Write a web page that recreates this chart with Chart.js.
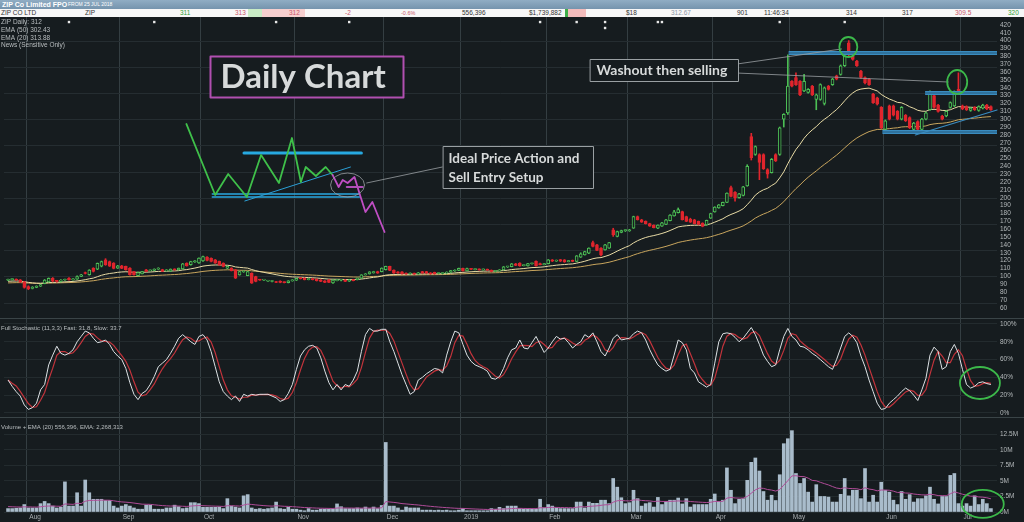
<!DOCTYPE html>
<html>
<head>
<meta charset="utf-8">
<title>ZIP Daily Chart</title>
<script src="https://cdn.jsdelivr.net/npm/chart.js@4.4.1/dist/chart.umd.min.js"></script>
<style>
  html, body { margin: 0; padding: 0; width: 1024px; height: 522px; overflow: hidden; background: #161c1f; font-family: 'Liberation Sans', Arial, sans-serif; }
  canvas { position: absolute; left: 0; top: 0; }
  #titleBar { position: absolute; z-index: 2; left: 0; top: 0; width: 1024px; height: 9px; background: linear-gradient(#90adc4, #7594ad); color: #fff; white-space: nowrap; }
  #titleBar b { position: absolute; left: 2px; top: 0; font-size: 7px; line-height: 9px; }
  #titleBar span { position: absolute; left: 68px; top: 0; font-size: 5px; line-height: 9px; }
  #quoteRow { position: absolute; z-index: 2; left: 0; top: 9px; width: 1024px; height: 8px; background: #f7f7f7; font-size: 6.5px; line-height: 8px; color: #333; white-space: nowrap; }
  #quoteRow span { position: absolute; top: 0; }
  #quoteRow i { position: absolute; top: 0; height: 8px; }
</style>
</head>
<body>
<canvas id="zipChart" width="1024" height="522"></canvas>
<div id="titleBar"><b>ZIP Co Limited FPO</b><span>FROM 25 JUL 2018</span></div>
<div id="quoteRow">
  <i style="left:248px;width:14px;background:#c9ecc6"></i>
  <i style="left:262px;width:43px;background:#f6cfcf"></i>
  <i style="left:565px;width:3px;background:#3fae4a"></i>
  <i style="left:568px;width:18px;background:#f3bcbc"></i>
  <span style="left:1px">ZIP CO LTD</span>
  <span style="left:85px">ZIP</span>
  <span style="left:180px;color:#2f9e36">311</span>
  <span style="left:235px;color:#c9566a">313</span>
  <span style="left:289px;color:#c9566a">312</span>
  <span style="left:345px;color:#c9566a">-2</span>
  <span style="left:401px;color:#c9566a;font-size:5.5px">-0.6%</span>
  <span style="left:462px">556,396</span>
  <span style="left:529px">$1,739,882</span>
  <span style="left:626px">$18</span>
  <span style="left:671px;color:#8a96a6">312.67</span>
  <span style="left:737px">901</span>
  <span style="left:764px">11:46:34</span>
  <span style="left:846px">314</span>
  <span style="left:902px">317</span>
  <span style="left:955px;color:#c9566a">309.5</span>
  <span style="left:1008px;color:#2f9e36">320</span>
</div>
<script>
// months on the time axis, as index of their first trading day
const monthLabels = ['Aug', 'Sep', 'Oct', 'Nov', 'Dec', '2019', 'Feb', 'Mar', 'Apr', 'May', 'Jun', 'Jul'];
const monthStart = [5, 28, 48, 71, 93, 112, 133, 153, 174, 193, 216, 235];

const priceTicks = [60, 70, 80, 90, 100, 110, 120, 130, 140, 150, 160, 170, 180, 190, 200, 210, 220, 230, 240, 250,
    260, 270, 280, 290, 300, 310, 320, 330, 340, 350, 360, 370, 380, 390, 400, 410, 420];
const stochTicks = [0, 20, 40, 60, 80, 100];
const volumeTicks = [0, 2.5, 5, 7.5, 10, 12.5];

// daily candles, 25 Jul 2018 onwards
const opens = [
    95, 95.8, 96, 95.6, 93, 87, 84.5, 86, 87.5, 91,
    93, 97.5, 94, 93.6, 95.4, 97.5, 95.6, 96.4, 100, 104.5,
    102, 110.4, 109, 113, 121, 118.8, 116.8, 110.4, 113.4, 112.6,
    110.4, 106, 101, 103.2, 108.3, 107, 107.5, 109.2, 108.6, 107,
    106.5, 109.2, 108.2, 109.5, 116.8, 114.7, 118.2, 117, 119.5, 124.5,
    123, 121, 119, 116.8, 110.4, 110.4, 108.3, 101.9, 105.8, 101,
    104.1, 99.8, 95.6, 95.2, 94, 93.5, 93, 94, 92.6, 92,
    94.2, 95, 97.4, 97.8, 95.8, 96.8, 96.4, 95.6, 94.3, 95.6,
    91.5, 94.5, 95, 95.6, 93.8, 95.6, 95.8, 97.7, 101.9, 103.2,
    104.5, 106.2, 106, 108.5, 112.6, 108, 105.8, 105.8, 104.1, 103,
    103.8, 102.8, 106, 106, 104, 105, 103.6, 103.4, 104.2, 105.2,
    106.8, 107.6, 110.2, 107, 109.6, 108.6, 109.2, 108.2, 109, 107.8,
    106.2, 107, 108.2, 112, 112.4, 116, 117, 113.6, 113.2, 116,
    119, 116.2, 115, 116.2, 121, 119.4, 121.2, 121, 118.8, 120.4,
    119, 124.4, 127.4, 129.5, 143, 140, 136, 133.7, 136, 159.2,
    150.8, 156, 158.2, 158, 161.3, 176, 172, 170, 167, 165,
    161.3, 164, 166, 171, 177, 181, 182.5, 176, 173, 172,
    170, 167.7, 165.5, 174, 182, 187, 190, 194, 213, 207,
    200, 203, 215, 278, 255, 255, 255, 236, 232, 255,
    255, 300, 308, 348, 353, 348, 336, 334, 342, 325,
    325, 320, 342, 344, 355, 357, 368, 397, 380, 374,
    361, 353, 351, 332, 327, 315, 287, 317, 317, 310,
    300, 305, 302, 287, 297, 287, 300, 312, 330, 318,
    304, 304, 315, 317, 338, 317, 316, 311, 315, 311,
    314, 318, 316
];
const highs = [
    96.5, 97, 96.8, 96, 93.6, 88, 87, 88, 90, 96,
    98, 98.5, 95, 96, 96.5, 98.5, 97, 100.5, 102.5, 105.5,
    108.5, 111, 117, 119.5, 122.5, 119.5, 117.5, 114, 114, 113,
    111, 106.5, 105.5, 106.5, 109, 108.2, 109.6, 111, 109, 108.5,
    109.5, 109.6, 110.6, 116.5, 117.2, 119.2, 120, 123.6, 125.8, 125,
    123.5, 121.5, 119.5, 117.2, 112.9, 111, 108.8, 106.5, 107, 106.5,
    104.5, 100.2, 96.3, 96, 95, 94.5, 93.8, 94.4, 93, 94.6,
    95.8, 97.8, 98, 98.2, 97.2, 97.2, 96.8, 96, 94.6, 96,
    95.8, 96, 96, 96, 96, 96, 98, 102.2, 103.6, 106,
    106.5, 106.6, 110.8, 113, 113, 108.4, 106.2, 106.2, 104.5, 104.5,
    104.2, 105, 106.4, 106.4, 104.8, 105.4, 104.6, 104.8, 105.8, 107.6,
    108.4, 110.6, 110.6, 110.4, 110, 109.6, 109.6, 109.4, 109.3, 108.2,
    107.4, 108.6, 112.6, 112.8, 116.4, 116.6, 117.4, 114.6, 116.6, 117,
    119.6, 116.8, 116.6, 121.4, 121.4, 120.8, 121.6, 121.4, 120.4, 120.8,
    126.5, 130, 132, 136.4, 145, 140.6, 136.6, 140.6, 143.4, 161.2,
    157.6, 158.8, 159.4, 159.8, 176.6, 176.8, 172.6, 170.6, 167.6, 165.6,
    165.6, 168.6, 172.6, 178.6, 184, 187, 183, 176.6, 174, 172.6,
    170.4, 168.2, 171.6, 180.4, 188.6, 191.4, 194.6, 206.4, 215, 208,
    205.6, 214.4, 242, 282, 266, 256, 256, 237, 250, 256,
    290, 307, 382, 349, 359, 349, 357, 339, 343, 332,
    345, 341, 343, 352, 356, 369, 384, 400, 381, 375,
    362, 354, 352, 333, 328, 316, 299, 318, 318, 311,
    316, 306, 303, 296, 298, 301, 309, 336, 331, 319,
    305, 311, 322, 336, 359, 318, 317, 315, 316, 317,
    319, 319, 317
];
const lows = [
    94.5, 95, 94.8, 92, 85, 83, 84, 85.5, 87, 90.5,
    92.5, 93, 92.5, 93, 94.8, 95, 95, 96, 99.5, 103,
    101.5, 105.5, 108.5, 112, 114, 112.5, 109.5, 110, 109.8, 108,
    101.5, 101.5, 100.5, 103, 105.8, 106.8, 107.2, 108.8, 106, 106.6,
    106, 107.8, 108, 109, 113, 114.2, 117.8, 116.5, 119, 119.5,
    118.5, 116.5, 114, 112, 109.8, 106.8, 97.2, 101.5, 105, 100.7,
    91, 93, 94.8, 94.9, 93.5, 93, 91.8, 91.8, 91.6, 91.6,
    93.8, 94.6, 96.6, 95.4, 95.5, 95.4, 94, 93.2, 91.8, 92,
    91, 94.2, 94.2, 93.2, 93.5, 94.2, 95.4, 97.4, 101.5, 102.8,
    104, 103.8, 105.6, 108, 107.2, 103.8, 103.8, 102.8, 102.5, 102.6,
    102.4, 102.5, 103.8, 103.6, 102.6, 102.8, 103.2, 103, 103.8, 104.8,
    106.2, 107.2, 106.6, 106.8, 108.4, 108.2, 107.8, 107.8, 107.6, 105.8,
    105.8, 106.6, 108, 111.2, 112, 113.6, 112.8, 113.2, 112.8, 115.4,
    112.8, 114.6, 114.6, 115.8, 118.8, 119, 118.8, 117.8, 118.4, 118.6,
    118.6, 124, 127, 129, 137.6, 132.6, 126, 133.2, 135.6, 150.8,
    150.2, 155.4, 157, 157.2, 161, 171.6, 168.6, 166.6, 163.6, 161.6,
    160.8, 163.6, 165.6, 170.6, 176.6, 180.6, 171.6, 169.6, 168.6, 166.6,
    165.6, 163, 165, 173.6, 181.6, 186.6, 189.6, 193.6, 201.2, 195.8,
    199.4, 202.4, 214.6, 248, 254, 223, 236, 225, 231.4, 246,
    254, 290, 306, 341, 343, 330, 335, 333, 330, 312,
    324, 318, 337, 343, 350, 356, 367, 380, 375, 367,
    352, 345, 343, 320, 318, 288, 284, 299, 304, 299,
    299, 297, 288, 285, 286, 286, 299, 311, 314, 309,
    299, 303, 314, 316, 333, 312, 311, 310, 311, 310,
    313, 312, 311
];
const closes = [
    95.8, 96.2, 95.4, 92.6, 86, 84, 86, 87.5, 89.5, 95.4,
    97.5, 94, 93.6, 95.4, 95.8, 95.6, 96.4, 99.8, 102, 103.6,
    108, 106.2, 116.5, 118.8, 114.8, 113, 110, 113.4, 110.2, 108.3,
    102, 102, 104.9, 106.2, 106.2, 107.5, 109.2, 110.4, 106.4, 108.2,
    109.2, 108.2, 110.4, 116, 113.4, 118.9, 119.6, 123.2, 125.3, 120.2,
    119, 116.8, 114.7, 112.6, 112.6, 107.2, 97.7, 106.2, 106.2, 106.2,
    91.4, 93.5, 95.2, 95.6, 94.8, 94.2, 92.2, 92.2, 92, 94.2,
    95.4, 97.4, 97.2, 95.8, 96.8, 95.8, 94.4, 93.5, 92.2, 92.4,
    95.4, 95.6, 95.2, 93.6, 95.6, 94.6, 97.7, 101.9, 103.2, 105.6,
    106.2, 104.2, 110.4, 112.6, 107.6, 104.2, 104.1, 103.2, 103, 104,
    102.8, 104.6, 104.2, 104, 103.2, 103.2, 104.2, 104.4, 105.4, 107.2,
    108, 110.2, 107, 109.8, 108.8, 109.2, 108.2, 109, 108, 106.2,
    107, 108.2, 112.2, 112.4, 116, 114, 113.2, 114.2, 116.2, 116.6,
    113.2, 115, 116.2, 121, 119.2, 120.4, 119.2, 118.2, 120, 119,
    126, 128.6, 131.6, 135.9, 138, 133, 127.4, 140, 143, 152.8,
    157, 158.2, 158.6, 159.2, 176, 172, 169, 167, 164, 162,
    165.2, 168.2, 172, 178, 182, 185, 172, 170, 169, 167,
    166, 163.4, 171.2, 180, 188.2, 191, 194.2, 206, 201.6, 200,
    205, 214, 240, 251, 265, 245, 237, 230, 249, 247,
    289, 306, 342, 342, 344, 331, 348, 338, 331, 331,
    344, 340, 338, 351, 351, 368, 380, 382, 376, 368,
    353, 346, 344, 321, 319, 289, 298, 300, 305, 300,
    315, 298, 289, 295, 287, 300, 308, 334, 315, 310,
    300, 310, 321, 334, 334, 313, 312, 314, 312, 316,
    318, 313, 312
];

// daily volume, millions of shares
const volumeM = [
    0.55, 0.55, 0.6, 0.65, 1.2, 0.65, 0.65, 0.65, 1.35, 1.7,
    1.35, 0.95, 0.65, 0.8, 4.85, 0.95, 0.95, 3.1, 0.95, 5.15,
    3.1, 2.05, 2.05, 2.05, 1.85, 1.85, 0.95, 0.65, 0.95, 1.2,
    0.95, 0.65, 0.45, 0.45, 1.1, 1.1, 0.45, 0.45, 0.45, 0.65,
    0.65, 1.1, 0.85, 0.55, 0.65, 1.5, 1.5, 1.35, 0.75, 0.75,
    0.75, 0.75, 0.8, 0.55, 2.15, 0.95, 0.8, 0.65, 2.6, 2.8,
    0.65, 0.45, 0.55, 0.45, 0.55, 0.65, 1.6, 0.55, 0.45, 0.75,
    0.45, 0.45, 0.3, 0.2, 0.55, 0.3, 0.3, 0.45, 0.45, 0.45,
    0.45, 1.3, 0.85, 0.55, 0.55, 0.55, 0.65, 0.55, 0.8, 0.55,
    0.8, 0.55, 1.05, 11.2, 0.95, 0.95, 0.65, 0.3, 0.8, 0.65,
    0.65, 0.65, 0.3, 0.3, 0.3, 0.25, 0.3, 0.25, 0.3, 0.2,
    0.2, 0.3, 0.55, 0.2, 0.2, 0.2, 0.2, 0.2, 0.2, 0.55,
    0.45, 0.75, 0.55, 0.95, 0.95, 0.95, 0.55, 0.45, 0.45, 0.45,
    0.45, 2.05, 0.65, 1.2, 0.95, 0.65, 0.55, 0.55, 0.55, 0.55,
    1.6, 1.6, 0.65, 1.6, 1.4, 1.4, 1.9, 1.9, 1.35, 5.4,
    4.0, 2.3, 1.35, 1.5, 3.5, 2.15, 0.95, 1.35, 1.5, 0.8,
    2.35, 1.2, 1.7, 1.9, 1.9, 2.25, 1.3, 2.15, 0.8, 1.2,
    1.2, 1.2, 1.2, 2.05, 2.9, 1.7, 1.9, 7.1, 3.5, 1.35,
    2.05, 2.15, 5.1, 8.0, 8.7, 6.6, 3.3, 1.9, 2.7, 1.85,
    6.0, 11.0, 11.8, 13.1, 6.2, 4.6, 5.4, 3.2, 1.6, 4.4,
    2.5, 2.5, 2.4, 1.6, 1.6, 2.85, 5.4, 2.6, 3.5, 3.5,
    2.15, 7.0, 1.6, 2.7, 1.6, 4.8, 3.5, 3.2, 1.9, 1.2,
    3.3, 2.05, 2.8, 1.6, 2.15, 2.15, 2.6, 4.0, 2.05, 1.3,
    2.5, 2.5, 5.9, 6.2, 1.35, 0.95, 1.35, 0.95, 2.6, 1.2,
    2.05, 1.35, 0.55
];

// Full Stochastic (11,3,3) fast line, percent
const stochFast = [
    37, 30, 24, 19, 9, 4, 6, 11, 26, 32,
    54, 65, 75, 67, 65, 67, 71, 80, 86, 92,
    90, 84, 79, 80, 82, 77, 69, 64, 60, 50,
    34, 21, 15, 22, 25, 32, 41, 52, 56, 60,
    67, 75, 84, 88, 84, 80, 77, 86, 88, 82,
    69, 52, 35, 24, 19, 15, 19, 13, 21, 19,
    21, 20, 21, 21, 21, 19, 17, 13, 15, 22,
    32, 49, 64, 71, 75, 76, 73, 62, 47, 34,
    26, 32, 26, 32, 30, 37, 47, 69, 88, 95,
    92, 92, 94, 94, 80, 69, 56, 43, 32, 21,
    24, 37, 40, 44, 47, 50, 49, 45, 65, 80,
    92, 90, 77, 65, 58, 54, 52, 50, 47, 39,
    38, 41, 50, 62, 71, 73, 82, 73, 72, 79,
    86, 77, 68, 73, 80, 86, 83, 84, 79, 73,
    77, 80, 88, 85, 90, 80, 69, 64, 73, 84,
    88, 82, 83, 84, 89, 92, 90, 82, 71, 62,
    54, 50, 47, 49, 65, 82, 79, 71, 50, 45,
    35, 32, 29, 32, 56, 80, 89, 90, 89, 85,
    80, 84, 90, 96, 88, 77, 65, 58, 52, 54,
    71, 86, 95, 86, 82, 75, 74, 71, 67, 64,
    60, 56, 52, 49, 60, 73, 86, 90, 86, 79,
    64, 52, 37, 24, 11, 4, 5, 11, 15, 19,
    24, 28, 25, 20, 14, 26, 39, 65, 74, 69,
    49, 52, 69, 77, 67, 49, 32, 28, 30, 34,
    35, 33, 32
];

// news items (bar index of each announcement)
const newsIdx = [15, 36, 66, 84, 131, 140, 147, 147, 160, 161, 190, 206];

const ema20Seed = 93.5;
const ema50Seed = 91.5;
const volEmaSeed = 0.9;

const fondo = '#161c1f';
const verde = '#4cbf55';
const rojo = '#e0252d';

function calcularEma(valores, periodo, semilla) {
    const k = 2 / (periodo + 1);
    let previo = semilla;
    return valores.map(v => (previo = v * k + previo * (1 - k)));
}

function mediaMovil(valores, periodo) {
    return valores.map((v, i) => {
        const tramo = valores.slice(Math.max(0, i - periodo + 1), i + 1);
        return tramo.reduce((a, b) => a + b, 0) / tramo.length;
    });
}

const indices = closes.map((c, i) => i);
const alcista = closes.map((c, i) => c >= opens[i]);
const ema20 = calcularEma(closes, 20, ema20Seed);
const ema50 = calcularEma(closes, 50, ema50Seed);
const stochSlow = mediaMovil(stochFast, 3);
const volEma = calcularEma(volumeM, 20, volEmaSeed);

const vistos = {};
const puntosNoticias = newsIdx.map(i => {
    vistos[i] = (vistos[i] || 0) + 1;
    return { x: i, y: 423.6 - (vistos[i] - 1) * 7.6 };
});

// drawing-tool annotations, in (bar index, price) space
const bocetoSube = [[43.9, 293.9], [51.0, 203.5], [54.2, 230.2], [58.8, 201], [62.3, 254.4], [66.7, 218.8],
    [69.9, 276], [72.1, 220], [73.3, 239.1], [75.8, 227.7], [78.2, 239.1], [79.9, 229]];
const bocetoBaja = [[79.9, 229], [81.4, 213.7], [82.4, 222.6], [83.6, 218.8], [85.3, 226.4], [86.5, 206.1],
    [88.0, 181.9], [89.7, 194.6], [92.7, 156.4]];

const fuenteChica = '6.5px "Liberation Sans", Arial, sans-serif';

const pluginFondo = {
    id: 'fondoRejilla',
    beforeDatasetsDraw(grafica) {
        const { ctx, chartArea, scales } = grafica;
        const yP = scales.yPrice;
        ctx.save();
        ctx.strokeStyle = '#252d31';
        ctx.lineWidth = 1;
        for (let v = 100 / 3; v < yP.max; v += 100 / 3) {
            if (v < yP.min) continue;
            const y = Math.round(yP.getPixelForValue(v)) + 0.5;
            ctx.beginPath();
            ctx.moveTo(chartArea.left, y);
            ctx.lineTo(chartArea.right, y);
            ctx.stroke();
        }
        ctx.strokeStyle = '#3a4447';
        [scales.yStoch.top, scales.yVol.top].forEach(t => {
            const y = Math.round(t) + 0.5;
            ctx.beginPath();
            ctx.moveTo(0, y);
            ctx.lineTo(grafica.width, y);
            ctx.stroke();
        });
        ctx.restore();
    }
};

const pluginNotas = {
    id: 'notas',
    afterDatasetsDraw(grafica) {
        const { ctx, scales } = grafica;
        const x = scales.x, yP = scales.yPrice;
        const px = i => x.getPixelForValue(i);
        const py = v => yP.getPixelForValue(v);

        function linea(puntos, color, ancho, eje) {
            const esc = eje || yP;
            ctx.beginPath();
            puntos.forEach(([i, v], k) => {
                const X = px(i), Y = esc.getPixelForValue(v);
                if (k) ctx.lineTo(X, Y); else ctx.moveTo(X, Y);
            });
            ctx.strokeStyle = color;
            ctx.lineWidth = ancho;
            ctx.stroke();
        }
        // level drawn as a thin double rule, like the platform's horizontal line tool
        function nivel(desde, precio) {
            const Y = Math.round(py(precio));
            ctx.fillStyle = '#3a8cc0';
            ctx.fillRect(px(desde), Y - 2, x.right - px(desde), 4);
            ctx.fillStyle = '#24597a';
            ctx.fillRect(px(desde), Y - 0.5, x.right - px(desde), 1);
        }
        function anillo(i, v, rx, ry, color, ancho, eje) {
            const esc = eje || yP;
            ctx.beginPath();
            ctx.ellipse(px(i), esc.getPixelForValue(v), rx, ry, 0, 0, Math.PI * 2);
            ctx.strokeStyle = color;
            ctx.lineWidth = ancho;
            ctx.stroke();
        }
        function caja(i, v, w, h, borde, ancho) {
            const X = Math.round(px(i)) + 0.5, Y = Math.round(py(v)) + 0.5;
            ctx.fillStyle = fondo;
            ctx.fillRect(X, Y, w, h);
            ctx.strokeStyle = borde;
            ctx.lineWidth = ancho;
            ctx.strokeRect(X, Y, w, h);
            return [X, Y];
        }

        ctx.save();
        ctx.lineJoin = 'round';
        ctx.lineCap = 'round';

        // sketch of the ideal setup
        linea([[58.3, 195.9], [84.3, 239.1]], '#2b9fd6', 1);
        linea([[50.3, 204.8], [86.5, 204.8]], '#2aa7e0', 1.6);
        linea([[50.3, 201], [86.5, 201]], '#2aa7e0', 1.6);
        linea([[58.1, 257], [87.0, 257]], '#27a9e1', 3);
        linea(bocetoSube, '#3fc04a', 1.8);
        linea(bocetoBaja, '#c04ec4', 1.8);
        linea([[83.4, 213.7], [87.3, 213.7]], '#b04eb8', 2);
        anillo(83.6, 216.2, 17, 12, '#9aa0a3', 0.8);
        linea([[88.3, 218.8], [106.9, 239.1]], '#9aa0a3', 0.8);

        // levels on the right
        nivel(192.2, 384.6);
        nivel(225.8, 332.9);
        nivel(215.3, 283.3);
        linea([[223.4, 279.9], [x.max, 311.7]], '#3a8cc0', 1.2);

        // callouts
        linea([[179.5, 370.2], [205.2, 389.3]], '#9aa0a3', 0.8);
        linea([[179.5, 358.7], [231.5, 347.3]], '#9aa0a3', 0.8);
        anillo(206.9, 391.8, 9, 10, '#3cb84a', 1.8);
        anillo(233.7, 347.3, 10, 12, '#3cb84a', 1.8);
        anillo(239.3, 33.7, 20, 16, '#3cb84a', 1.8, scales.yStoch);
        anillo(240.0, 1.3, 21, 14, '#3cb84a', 1.8, scales.yVol);

        ctx.textBaseline = 'alphabetic';
        let [bx, by] = caja(49.8, 380.4, 193, 41, '#b04fb0', 2);
        ctx.fillStyle = '#d7dada';
        ctx.font = 'bold 33px Lato, sans-serif';
        ctx.fillText('Daily Chart', bx + 10, by + 31);

        [bx, by] = caja(107.1, 265.9, 150, 42, '#9aa0a3', 1);
        ctx.fillStyle = '#d7dada';
        ctx.font = 'bold 13.5px Lato, sans-serif';
        ctx.fillText('Ideal Price Action and', bx + 5, by + 16.5);
        ctx.fillText('Sell Entry Setup', bx + 5, by + 35.5);

        [bx, by] = caja(143.2, 376.6, 148, 22, '#9aa0a3', 1);
        ctx.fillStyle = '#d7dada';
        ctx.font = 'bold 14px Lato, sans-serif';
        ctx.fillText('Washout then selling', bx + 6, by + 15.5);

        // panel captions
        ctx.font = fuenteChica;
        ctx.fillStyle = '#b9bec0';
        ctx.textBaseline = 'middle';
        ctx.fillText('ZIP Daily: 312', 1, 22.7);
        ctx.fillText('EMA (50) 302.43', 1, 30.7);
        ctx.fillText('EMA (20) 313.88', 1, 38);
        ctx.fillText('News (Sensitive Only)', 1, 45.7);
        ctx.font = '6px "Liberation Sans", Arial, sans-serif';
        ctx.fillText('Full Stochastic (11,3,3) Fast: 31.8, Slow: 33.7', 1, scales.yStoch.top + 10.5);
        ctx.fillText('Volume + EMA (20) 556,396, EMA: 2,268,313', 1, scales.yVol.top + 10);
        ctx.restore();
    }
};

function ejeDerecho(peso, min, max, valores, formato, rejilla) {
    return {
        type: 'linear',
        position: 'right',
        stack: 'paneles',
        stackWeight: peso,
        min: min,
        max: max,
        afterBuildTicks: escala => { escala.ticks = valores.map(v => ({ value: v })); },
        afterFit: escala => { escala.width = 27; },
        border: { display: false },
        grid: { display: !!rejilla, color: rejilla || 'transparent', drawTicks: false },
        ticks: {
            autoSkip: false,
            padding: 3,
            color: '#b4b9bb',
            font: { size: 6.5, family: '"Liberation Sans", Arial, sans-serif' },
            callback: formato
        }
    };
}

document.addEventListener('DOMContentLoaded', function() {
    const lienzo = document.getElementById('zipChart');
    new Chart(lienzo, {
        type: 'line',
        data: {
            datasets: [{
                label: 'News',
                data: puntosNoticias,
                yAxisID: 'yPrice',
                showLine: false,
                pointStyle: 'rect',
                pointRadius: 1.7,
                pointBorderWidth: 0,
                pointBackgroundColor: '#e8e8e8',
                order: 0
            }, {
                type: 'bar',
                label: 'Body',
                data: indices.map(i => ({ x: i, y: [Math.min(opens[i], closes[i]), Math.max(opens[i], closes[i])] })),
                yAxisID: 'yPrice',
                grouped: false,
                barThickness: 3,
                minBarLength: 1,
                borderWidth: 1,
                borderSkipped: false,
                borderColor: alcista.map(a => a ? verde : rojo),
                backgroundColor: alcista.map(a => a ? fondo : rojo),
                order: 1
            }, {
                type: 'bar',
                label: 'Wick',
                data: indices.map(i => ({ x: i, y: [lows[i], highs[i]] })),
                yAxisID: 'yPrice',
                grouped: false,
                barThickness: 1,
                borderWidth: 0,
                backgroundColor: alcista.map(a => a ? verde : rojo),
                order: 2
            }, {
                label: 'EMA (20)',
                data: indices.map(i => ({ x: i, y: ema20[i] })),
                yAxisID: 'yPrice',
                borderColor: '#e9dca6',
                borderWidth: 1,
                pointRadius: 0,
                order: 3
            }, {
                label: 'EMA (50)',
                data: indices.map(i => ({ x: i, y: ema50[i] })),
                yAxisID: 'yPrice',
                borderColor: '#c9a65e',
                borderWidth: 1,
                pointRadius: 0,
                order: 4
            }, {
                label: 'Fast',
                data: indices.map(i => ({ x: i, y: stochFast[i] })),
                yAxisID: 'yStoch',
                borderColor: '#dde2e5',
                borderWidth: 1,
                pointRadius: 0,
                order: 1
            }, {
                label: 'Slow',
                data: indices.map(i => ({ x: i, y: stochSlow[i] })),
                yAxisID: 'yStoch',
                borderColor: '#c3343c',
                borderWidth: 1.2,
                pointRadius: 0,
                order: 2
            }, {
                type: 'bar',
                label: 'Volume',
                data: indices.map(i => ({ x: i, y: volumeM[i] })),
                yAxisID: 'yVol',
                grouped: false,
                barThickness: 3,
                borderWidth: 0,
                backgroundColor: '#a9bccb',
                order: 2
            }, {
                label: 'Volume EMA (20)',
                data: indices.map(i => ({ x: i, y: volEma[i] })),
                yAxisID: 'yVol',
                borderColor: '#b04c98',
                borderWidth: 1,
                pointRadius: 0,
                order: 1
            }]
        },
        options: {
            responsive: false,
            maintainAspectRatio: false,
            animation: false,
            events: [],
            layout: { padding: { top: 17, left: 0, right: 0, bottom: 0 } },
            plugins: {
                legend: { display: false },
                tooltip: { enabled: false }
            },
            scales: {
                x: {
                    type: 'linear',
                    min: -1,
                    max: 243.5,
                    offset: false,
                    afterBuildTicks: escala => { escala.ticks = monthStart.map(v => ({ value: v - 0.5 })); },
                    afterFit: escala => { escala.height = 10; },
                    border: { display: false },
                    grid: { offset: false, color: '#343e42', drawTicks: false },
                    ticks: {
                        autoSkip: false,
                        maxRotation: 0,
                        align: 'start',
                        labelOffset: 3,
                        padding: 1,
                        color: '#a9aeb1',
                        font: { size: 6.5, family: '"Liberation Sans", Arial, sans-serif' },
                        callback: (valor, indice) => monthLabels[indice]
                    }
                },
                yPrice: ejeDerecho(301, 47, 430, priceTicks, v => String(v)),
                yStoch: ejeDerecho(99, -4.5, 106.7, stochTicks, v => v + '%', '#232b2e'),
                yVol: ejeDerecho(95, 0, 15.3, volumeTicks, v => v + 'M', '#232b2e')
            }
        },
        plugins: [pluginFondo, pluginNotas]
    });
});
</script>
</body>
</html>
